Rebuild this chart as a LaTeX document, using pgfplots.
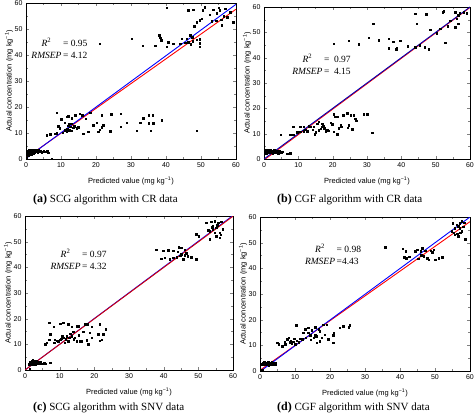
\documentclass[border=0pt]{standalone}
\usepackage{fontspec}
\setmainfont{Liberation Serif}
\setsansfont{Liberation Sans}
\usepackage{pgfplots}
\pgfplotsset{compat=1.18}
\pgfplotsset{panel/.style={
  scale only axis, anchor=south west,
  xmin=0,xmax=60,ymin=0,ymax=60,
  xtick={0,10,...,60}, ytick={0,10,...,60},
  minor tick num=1,
  tick align=inside,
  major tick length=3pt, minor tick length=1.8pt,
  axis line style={line width=0.6pt},
  tick label style={font=\sffamily\fontsize{7}{8}\selectfont},
  /pgf/number format/assume math mode=true,
  xlabel={Predicted value (mg kg\textsuperscript{−1})},
  ylabel={Actual concentration (mg kg\textsuperscript{−1})},
  every axis x label/.style={at={([yshift=-22pt]axis description cs:0.5,0)}, anchor=center, font=\sffamily\fontsize{7.5}{9}\selectfont},
  every axis y label/.style={at={([xshift=-17pt]axis description cs:0,0.5)}, anchor=center, rotate=90, font=\sffamily\fontsize{7.5}{9}\selectfont},
},
pts/.style={only marks, mark=square*, mark size=0.75pt, black},
}
\newcommand{\ann}[2]{\fontsize{9.5}{12.5}\selectfont\begin{tabular}{@{}c@{\,}l@{}}\textit{R}\textsuperscript{2} & #1\\ \textit{RMSEP} & #2\end{tabular}}
\begin{document}
\begin{tikzpicture}
\useasboundingbox (0,0) rectangle (474pt,417pt);
% (a)
\begin{axis}[panel, at={(26pt,258pt)}, width=210pt, height=156pt]
\addplot[pts] coordinates {(0.3,2.2)(0.5,3)(0.7,2.6)(0.8,3.4)(1,2)(1.1,2.9)(1.3,3.5)(1.4,2.4)(1.6,3.1)(1.8,2.7)(2,3.6)(2.1,2.2)(2.3,3)(2.5,2.6)(2.7,3.4)(2.9,2.9)(3.1,3.3)(3.3,2.5)(3.5,3.1)(3.8,2.8)(4.1,3.2)(4.5,2.7)(5,3)(5.5,2.8)(6,3.1)(6.4,2.5)(7.3,0.2)(0.2,0.5)(1.5,1.9)(0.6,1.5)(4.8,2.9)(3.6,3.5)
(5.9,9.2)(6.9,9.5)(8.3,9.8)(8.8,9.9)(8.8,17.8)(10,15.3)(9.2,12.7)(9.7,11.8)(11.1,13.9)(11.6,16.2)(12.1,16.5)(13,15.6)(14,16.9)(15.4,17.5)(12.6,12.4)(13.5,12.1)(14.5,11.8)(11.6,10.5)(12,12.8)(12.4,11)(11.8,11.5)(13,10.9)(12.2,13.3)(13.8,12.7)(14.9,12.3)(10.5,10.2)(11,11)(12.9,13.5)(15,12)(16.4,9.8)(17.8,10.5)(18.3,17.8)(19.2,13)(20.2,13.9)(20.7,10.5)(21.1,11.2)(21.6,12.3)(22.1,13)(24,10.7)(21.6,16.9)(24.3,17.3)(27,17.5)(27,12.4)(28.8,13.9)(31.6,10.9)(32.6,13.9)(33.5,15.6)(35,16.9)(36.2,16.9)(35,13.7)(36.4,13.7)(35.6,10.9)(38.8,15)(48.8,10.9)(17,15.5)(16,16.8)
(21.1,44.4)(30.2,46.3)(33.3,43.6)(36.9,43.5)(38.1,47.6)(38.3,46.7)(38.6,45.7)(40.2,43.1)(40.7,45)(42.1,44.4)(44,44.4)(44.5,46.3)(45.9,46.3)(46.9,47.6)(47.5,46.8)(47.6,45.3)(48.8,45.8)(49.7,46)(49.7,44.6)(49.7,43.1)(46.3,45)(47,44.2)(45.5,44.8)(40.2,58.2)(46.4,57.2)(47.8,57.4)(51,58.4)(53.5,57.4)(55.4,57.2)(56.9,57.8)(58.3,56.5)(48.8,52.7)(49.7,53.3)(50.2,54)(53,53)(54.4,53.2)(55.8,53.5)(59.2,52.7)(48.1,51)(55.9,51.4)(52.5,55.5)(54.5,56)(56.5,55)(57.5,54.5)(50.5,57.2)(55,58.2)};
\addplot[red, line width=0.9pt] coordinates {(0,0.4)(60,57.6)};
\addplot[blue, line width=0.9pt] coordinates {(0,0.2)(60,59.5)};
\node[anchor=west, inner sep=0pt] at (axis cs:1.5,42) {\ann{= 0.95}{= 4.12}};
\end{axis}
% (b)
\begin{axis}[panel, at={(264pt,258pt)}, width=206pt, height=152pt]
\addplot[pts] coordinates {(0.3,2.8)(0.6,2.3)(0.8,3.2)(1,2.7)(1.2,3.5)(1.4,2.4)(1.6,3)(1.9,2.6)(2.1,3.3)(2.3,2.9)(2.5,2.2)(2.7,3.1)(2.9,3.6)(3.1,2.7)(3.3,3.2)(3.6,2.5)(3.8,3)(4.1,2.8)(4.2,2.2)(4.5,3.1)(5,2.6)(5.4,2.9)(6.8,2)(7.7,2.2)(0.5,3.4)(1.8,3.7)
(4.8,9.5)(7.7,9.5)(8.5,9.5)(8.5,12.7)(10.6,10.8)(11.6,10.9)(12.6,11)(13.6,12.7)(14.5,12.7)(14.2,11.5)(15.5,14)(16,14.7)(16.9,12.7)(17.3,13.2)(17.6,12.1)(18.4,11.4)(18.9,11.2)(19.4,14.3)(19.8,13.7)(14.7,9.8)(15,10.6)(16,11.4)(20.3,17.7)(20.8,16.7)(21.3,16.7)(23,17.3)(24.2,18)(25.2,17.3)(26.1,17.3)(26.6,16)(26.8,15.1)(24.7,13.4)(24.4,12.3)(21.8,12.1)(22.3,13.4)(22.5,12.8)(21.3,9.7)(25.7,11.7)(29,17.6)(30,17.6)(31.5,10.4)(20.3,10.8)(11.6,12.7)(9.7,10.5)(10.6,12.7)(13,13)(12,11.5)(17,14)(18,11)(16.5,12)
(20.3,45.5)(24.7,46.6)(27.6,45.3)(30.5,47.8)(33.4,46.9)(36.3,47.5)(37.6,46.3)(39.7,46.6)(36.3,43.8)(38.5,43.3)(38.7,43.8)(41.9,44.6)(44,44.2)(45.3,44.9)(46.8,44.2)(47.9,43.3)(31.8,53.4)(44,57.3)(47.2,57.1)(44.5,53.4)(48.4,51)(50.3,49.7)(51.3,51.4)(52.3,58.4)(52.8,46)(54.2,54.5)(55.7,52.1)(56.1,55.4)(56.6,53.4)(55.7,58)(58.1,58)(59,57.5)(57,57.5)(53.5,52.5)(52,58)(56.5,56.8)};
\addplot[red, line width=0.9pt] coordinates {(0,-0.4)(60,59.8)};
\addplot[blue!70!black, line width=0.9pt] coordinates {(0,0)(60,60)};
\node[anchor=west, inner sep=0pt] at (axis cs:8.2,36.7) {\ann{= \ 0.97}{= \ 4.15}};
\end{axis}
% (c)
\begin{axis}[panel, at={(25pt,47pt)}, width=208pt, height=154pt]
\addplot[pts] coordinates {(1.2,2.3)(1.5,3.1)(1.7,2.6)(1.9,3.5)(2.1,2.2)(2.3,3)(2.5,3.7)(2.7,2.5)(2.9,3.3)(3.1,2.8)(3.3,3.6)(3.5,2.4)(3.7,3.1)(3.9,2.7)(4.1,3.3)(4.3,2.7)(4.6,3)(5,2.5)(5.5,2.6)(6,2.5)(7.2,2.8)(1.4,0.4)(2.2,3.8)(3,2)
(7,18.4)(10.1,18)(11,18.4)(8.3,16.8)(12.5,17.8)(13.4,16.9)(14.9,17.1)(15.4,17.1)(17.3,17.8)(17.9,17.8)(19.2,16.8)(21.6,17.8)(23.3,15.8)(21.1,13.9)(22.1,11.9)(22.6,13.9)(21.5,11.4)(18.7,14.5)(19.2,12.6)(17.8,11.6)(18.2,10)(15.8,11.3)(14.9,11.3)(14.4,12.6)(13.4,13.2)(13,14.2)(12,13.2)(11,12.6)(10.1,11.9)(9.6,11.3)(8.6,11.9)(8.4,10.6)(7.2,13.9)(6.2,10.6)(5.8,10)(7,11.9)(11.5,10.6)(12.5,11.3)(13.9,14.9)(16.8,14.9)(12.7,12.5)(11.8,12)(10.5,12.2)(14,12)(15.5,13.5)(16.2,11.2)(9.2,11.5)(10.8,13.2)
(37.9,46.8)(39.8,46.4)(41.3,46.6)(42.7,46.4)(44.1,46)(45.1,47.7)(46.1,46.8)(39.3,43.4)(40.3,43.8)(41.7,43.1)(42.7,43.8)(43.7,44)(45.1,45.1)(46.5,45.5)(47,44.4)(45.6,43.1)(48,44)(49.4,43.1)(44.4,47.9)(44.8,44.5)(46,44.8)
(49.4,52.9)(50.1,52.2)(53.7,57.8)(54.7,58)(55.7,57.4)(56.6,57.8)(54.2,56.1)(55.2,55.5)(52.8,54.4)(53.3,54.1)(54.2,54.8)(54.7,53.5)(56.1,53.5)(55.2,52.2)(56.1,51.6)(53.3,50.9)(57.1,54.8)(56.5,52.8)(52.3,57.4)(55.5,56.5)(53.8,55.6)};
\addplot[blue, line width=0.9pt] coordinates {(0,0)(60,60.2)};
\addplot[red!85!black, line width=0.9pt] coordinates {(0,0)(60,59.9)};
\node[anchor=west, inner sep=0pt] at (axis cs:7.3,42.5) {\ann{= 0.97}{= 4.32}};
\end{axis}
% (d)
\begin{axis}[panel, at={(260pt,46pt)}, width=210pt, height=154pt]
\addplot[pts] coordinates {(0.5,2.6)(0.8,3.2)(1,2.4)(1.2,3.5)(1.4,2.8)(1.6,3.1)(1.8,2.5)(2,3.3)(2.2,2.7)(2.4,3.4)(2.6,2.9)(2.8,2.5)(3,3.2)(3.2,2.7)(3.4,3.5)(3.6,2.8)(3.8,3.1)(4,2.6)(4.3,3)(4.5,2.7)(0.4,0.3)(0.8,0.5)(2.5,2.2)
(4.9,11)(5.4,10.4)(6.3,9.7)(7.2,10.4)(8.7,11.7)(8.2,13)(7.7,12.3)(9.1,10.6)(10,10.4)(10.5,11.9)(10.4,17.9)(12,12.3)(12.4,14.9)(12.9,16.2)(13.8,14.9)(14.3,14)(15.3,13)(15.8,14)(16.2,11)(17.1,11.7)(17.6,13)(13.8,16.8)(15.7,17.1)(16.7,16.2)(18.1,18.1)(19,18.1)(18.5,14.2)(19.5,12.3)(20.9,14)(21.1,14.9)(20.9,11)(22.8,16.8)(23.7,17.5)(25.6,17.9)(25.4,17.1)(8.5,11.2)(9.5,11.5)(11,11.2)(13,13)(14.5,12.2)(16,13.5)(11.5,12.5)(7,11.5)(9.8,12.5)(17,15.5)(14.8,15.8)
(35.8,48.3)(40.7,47.7)(41.6,46.6)(41.2,44.3)(41.8,44)(42.6,44.6)(44.4,46.6)(44.9,47.3)(45.9,46.6)(46.3,47.9)(45.2,43.7)(46.8,44.7)(47.7,44)(48.2,43.4)(48.7,46.9)(49.6,47.3)(50.1,43.4)(51,44)(52,44.3)(49.2,46.2)(47.2,46.8)(46,45.2)
(57.6,58.3)(57.1,57.6)(56.2,57)(56.7,56.4)(55.7,55.7)(57.1,55.7)(58.1,56.3)(55.3,53.8)(55.7,53.1)(56.4,53.4)(57.2,53.8)(56.7,52.5)(58.6,51.4)(54.8,54.4)(57.6,54.4)(55,57.5)(58.3,57.8)};
\addplot[red, line width=0.9pt] coordinates {(0,0.3)(60,58.2)};
\addplot[blue, line width=0.9pt] coordinates {(0,-0.2)(60,60)};
\node[anchor=west, inner sep=0pt] at (axis cs:12.8,44.9) {\ann{= 0.98}{=4.43}};
\end{axis}
% captions
\node[anchor=base west, inner sep=0pt] at (33pt,214pt) {\fontsize{12}{14}\selectfont\textbf{(a)}\fontsize{11}{13}\selectfont\ SCG algorithm with CR data};
\node[anchor=base west, inner sep=0pt] at (277pt,214pt) {\fontsize{12}{14}\selectfont\textbf{(b)}\fontsize{11}{13}\selectfont\ CGF algorithm with CR data};
\node[anchor=base west, inner sep=0pt] at (33pt,6pt) {\fontsize{12}{14}\selectfont\textbf{(c)}\fontsize{11}{13}\selectfont\ SCG algorithm with SNV data};
\node[anchor=base west, inner sep=0pt] at (277pt,6pt) {\fontsize{12}{14}\selectfont\textbf{(d)}\fontsize{11}{13}\selectfont\ CGF algorithm with SNV data};
\end{tikzpicture}
\end{document}
